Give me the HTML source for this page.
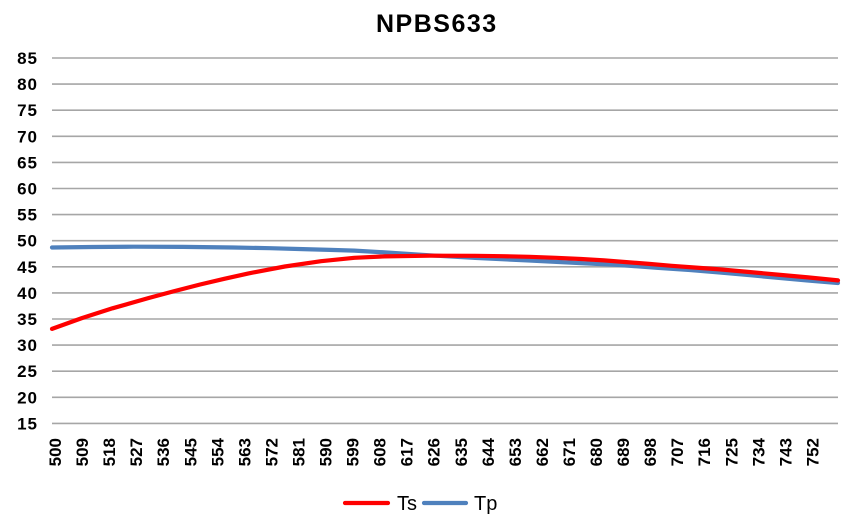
<!DOCTYPE html>
<html>
<head>
<meta charset="utf-8">
<style>
  html,body{margin:0;padding:0;background:#fff;}
  svg{display:block;}
  text{font-family:"Liberation Sans",sans-serif;fill:#000;}
</style>
</head>
<body>
<svg width="862" height="521" viewBox="0 0 862 521" xmlns="http://www.w3.org/2000/svg">
  <rect width="862" height="521" fill="#fff"/>
  <!-- title -->
  <text x="376" y="32" font-size="25" font-weight="bold" letter-spacing="1.5">NPBS633</text>

  <!-- gridlines -->
  <g stroke="#A6A6A6" stroke-width="1.6">
    <line x1="52" y1="58" x2="838" y2="58"/>
    <line x1="52" y1="84.1" x2="838" y2="84.1"/>
    <line x1="52" y1="110.2" x2="838" y2="110.2"/>
    <line x1="52" y1="136.3" x2="838" y2="136.3"/>
    <line x1="52" y1="162.4" x2="838" y2="162.4"/>
    <line x1="52" y1="188.5" x2="838" y2="188.5"/>
    <line x1="52" y1="214.6" x2="838" y2="214.6"/>
    <line x1="52" y1="240.7" x2="838" y2="240.7"/>
    <line x1="52" y1="266.8" x2="838" y2="266.8"/>
    <line x1="52" y1="292.9" x2="838" y2="292.9"/>
    <line x1="52" y1="319" x2="838" y2="319"/>
    <line x1="52" y1="345.1" x2="838" y2="345.1"/>
    <line x1="52" y1="371.2" x2="838" y2="371.2"/>
    <line x1="52" y1="397.3" x2="838" y2="397.3"/>
    <line x1="52" y1="423.4" x2="838" y2="423.4"/>
  </g>

  <!-- y labels -->
  <g font-size="17" font-weight="bold" text-anchor="end" letter-spacing="1">
    <text x="38" y="64">85</text>
    <text x="38" y="90.1">80</text>
    <text x="38" y="116.2">75</text>
    <text x="38" y="142.3">70</text>
    <text x="38" y="168.4">65</text>
    <text x="38" y="194.5">60</text>
    <text x="38" y="220.6">55</text>
    <text x="38" y="246.7">50</text>
    <text x="38" y="272.8">45</text>
    <text x="38" y="298.9">40</text>
    <text x="38" y="325">35</text>
    <text x="38" y="351.1">30</text>
    <text x="38" y="377.2">25</text>
    <text x="38" y="403.3">20</text>
    <text x="38" y="429.4">15</text>
  </g>

  <!-- x labels -->
  <g font-size="17" font-weight="bold" text-anchor="end">
    <text x="61" y="438" transform="rotate(-90 61 438)">500</text>
    <text x="88.05" y="438" transform="rotate(-90 88.05 438)">509</text>
    <text x="115.1" y="438" transform="rotate(-90 115.1 438)">518</text>
    <text x="142.15" y="438" transform="rotate(-90 142.15 438)">527</text>
    <text x="169.2" y="438" transform="rotate(-90 169.2 438)">536</text>
    <text x="196.25" y="438" transform="rotate(-90 196.25 438)">545</text>
    <text x="223.3" y="438" transform="rotate(-90 223.3 438)">554</text>
    <text x="250.35" y="438" transform="rotate(-90 250.35 438)">563</text>
    <text x="277.4" y="438" transform="rotate(-90 277.4 438)">572</text>
    <text x="304.45" y="438" transform="rotate(-90 304.45 438)">581</text>
    <text x="331.5" y="438" transform="rotate(-90 331.5 438)">590</text>
    <text x="358.55" y="438" transform="rotate(-90 358.55 438)">599</text>
    <text x="385.6" y="438" transform="rotate(-90 385.6 438)">608</text>
    <text x="412.65" y="438" transform="rotate(-90 412.65 438)">617</text>
    <text x="439.7" y="438" transform="rotate(-90 439.7 438)">626</text>
    <text x="466.75" y="438" transform="rotate(-90 466.75 438)">635</text>
    <text x="493.8" y="438" transform="rotate(-90 493.8 438)">644</text>
    <text x="520.85" y="438" transform="rotate(-90 520.85 438)">653</text>
    <text x="547.9" y="438" transform="rotate(-90 547.9 438)">662</text>
    <text x="574.95" y="438" transform="rotate(-90 574.95 438)">671</text>
    <text x="602" y="438" transform="rotate(-90 602 438)">680</text>
    <text x="629.05" y="438" transform="rotate(-90 629.05 438)">689</text>
    <text x="656.1" y="438" transform="rotate(-90 656.1 438)">698</text>
    <text x="683.15" y="438" transform="rotate(-90 683.15 438)">707</text>
    <text x="710.2" y="438" transform="rotate(-90 710.2 438)">716</text>
    <text x="737.25" y="438" transform="rotate(-90 737.25 438)">725</text>
    <text x="764.3" y="438" transform="rotate(-90 764.3 438)">734</text>
    <text x="791.35" y="438" transform="rotate(-90 791.35 438)">743</text>
    <text x="818.4" y="438" transform="rotate(-90 818.4 438)">752</text>
  </g>

  <!-- Tp series -->
  <polyline fill="none" stroke="#4F81BD" stroke-width="4.2" stroke-linejoin="round" stroke-linecap="round"
    points="52,247.5 92,247.0 133.6,246.7 183,246.9 233.4,247.5 270,248.2 302.9,249.1 330,249.9 354.3,250.6 392,252.8 429.9,255.3 475.2,257.9 529.6,260.5 581,263.1 620,265.0 656.6,267.8 690,270.0 720.1,272.5 750,275.2 777.5,277.8 808,280.5 838,283.0"/>

  <!-- Ts series -->
  <polyline fill="none" stroke="#FF0000" stroke-width="4.2" stroke-linejoin="round" stroke-linecap="round"
    points="52,328.9 82.2,318.0 112.5,308.3 148.7,298.0 172.9,291.5 200.1,284.5 224.3,278.8 248.5,273.4 284.8,266.5 321,261.2 354.3,257.8 384.5,256.4 429.9,255.7 475.2,255.8 502,256.2 529.6,256.8 556,257.8 581,259.0 604,260.4 626.4,262.1 649,263.9 671.7,265.8 696,267.6 720.1,269.4 749,272.0 777.5,274.6 808,277.4 838,280.4"/>

  <!-- legend -->
  <line x1="345" y1="503" x2="388" y2="503" stroke="#FF0000" stroke-width="4.2" stroke-linecap="round"/>
  <text x="397" y="510" font-size="20">Ts</text>
  <line x1="424" y1="503" x2="466" y2="503" stroke="#4F81BD" stroke-width="4.2" stroke-linecap="round"/>
  <text x="474" y="510" font-size="20">Tp</text>
</svg>
</body>
</html>
